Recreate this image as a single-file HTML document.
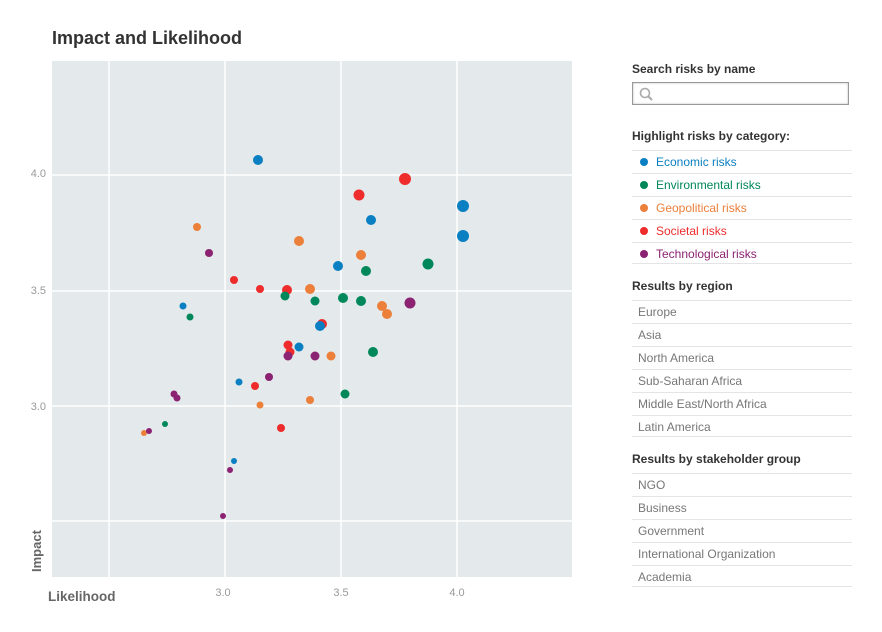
<!DOCTYPE html>
<html><head><meta charset="utf-8"><style>
body{margin:0;width:882px;height:632px;background:#fff;font-family:"Liberation Sans",Arial,sans-serif;position:relative;overflow:hidden}
.abs{position:absolute}
h1{position:absolute;left:52px;top:28px;margin:0;font-size:18px;font-weight:bold;color:#333}
.hd{position:absolute;left:632px;font-size:12px;font-weight:bold;color:#333}
.row{position:absolute;left:632px;width:220px;height:22px;border-top:1px solid #e4e4e4;font-size:12px;line-height:22px;color:#777;padding-left:6px;box-sizing:border-box}
.row.last{border-bottom:1px solid #e4e4e4}
.dot{display:inline-block;width:8px;height:8px;border-radius:50%;margin:0 8px 0 2px;vertical-align:0px}
</style></head><body>
<h1>Impact and Likelihood</h1>
<svg class="abs" style="left:0;top:0" width="600" height="632">
<rect x="52" y="61" width="520" height="516" fill="#e4eaeb"/>
<g stroke="#fff" stroke-width="1.5">
<line x1="109" y1="61" x2="109" y2="577"/><line x1="225" y1="61" x2="225" y2="577"/><line x1="341" y1="61" x2="341" y2="577"/><line x1="457" y1="61" x2="457" y2="577"/>
<line x1="52" y1="175" x2="572" y2="175"/><line x1="52" y1="291" x2="572" y2="291"/><line x1="52" y1="406" x2="572" y2="406"/><line x1="52" y1="521" x2="572" y2="521"/>
</g>
<g font-size="11" fill="#999" font-family="Liberation Sans,sans-serif">
<text x="46" y="177" text-anchor="end">4.0</text><text x="46" y="294" text-anchor="end">3.5</text><text x="46" y="410" text-anchor="end">3.0</text>
<text x="223" y="596" text-anchor="middle">3.0</text><text x="341" y="596" text-anchor="middle">3.5</text><text x="457" y="596" text-anchor="middle">4.0</text>
</g>
<text x="48" y="601" font-size="13.5" font-weight="bold" fill="#666">Likelihood</text>
<text transform="translate(41,572) rotate(-90)" font-size="13" font-weight="bold" fill="#666">Impact</text>
<g>
<circle cx="258" cy="160" r="5" fill="#0a7fc1"/>
<circle cx="359" cy="195" r="5.5" fill="#ee2c2c"/>
<circle cx="405" cy="179" r="6" fill="#ee2c2c"/>
<circle cx="463" cy="206" r="6" fill="#0a7fc1"/>
<circle cx="463" cy="236" r="6" fill="#0a7fc1"/>
<circle cx="371" cy="220" r="5" fill="#0a7fc1"/>
<circle cx="197" cy="227" r="4" fill="#ec7f3a"/>
<circle cx="299" cy="241" r="5" fill="#ec7f3a"/>
<circle cx="209" cy="253" r="4" fill="#8b2272"/>
<circle cx="361" cy="255" r="5" fill="#ec7f3a"/>
<circle cx="428" cy="264" r="5.5" fill="#00875a"/>
<circle cx="366" cy="271" r="5" fill="#00875a"/>
<circle cx="338" cy="266" r="5" fill="#0a7fc1"/>
<circle cx="234" cy="280" r="4" fill="#ee2c2c"/>
<circle cx="260" cy="289" r="4" fill="#ee2c2c"/>
<circle cx="287" cy="290" r="5" fill="#ee2c2c"/>
<circle cx="310" cy="289" r="5" fill="#ec7f3a"/>
<circle cx="285" cy="296" r="4.5" fill="#00875a"/>
<circle cx="315" cy="301" r="4.5" fill="#00875a"/>
<circle cx="343" cy="298" r="5" fill="#00875a"/>
<circle cx="361" cy="301" r="5" fill="#00875a"/>
<circle cx="410" cy="303" r="5.5" fill="#8b2272"/>
<circle cx="382" cy="306" r="5" fill="#ec7f3a"/>
<circle cx="387" cy="314" r="5" fill="#ec7f3a"/>
<circle cx="183" cy="306" r="3.5" fill="#0a7fc1"/>
<circle cx="190" cy="317" r="3.5" fill="#00875a"/>
<circle cx="322" cy="324" r="5" fill="#ee2c2c"/>
<circle cx="320" cy="326" r="5" fill="#0a7fc1"/>
<circle cx="299" cy="347" r="4.5" fill="#0a7fc1"/>
<circle cx="288" cy="345" r="4.5" fill="#ee2c2c"/>
<circle cx="290" cy="352" r="4.5" fill="#ee2c2c"/>
<circle cx="288" cy="356" r="4.5" fill="#8b2272"/>
<circle cx="315" cy="356" r="4.5" fill="#8b2272"/>
<circle cx="331" cy="356" r="4.5" fill="#ec7f3a"/>
<circle cx="373" cy="352" r="5" fill="#00875a"/>
<circle cx="269" cy="377" r="4" fill="#8b2272"/>
<circle cx="239" cy="382" r="3.5" fill="#0a7fc1"/>
<circle cx="255" cy="386" r="4" fill="#ee2c2c"/>
<circle cx="174" cy="394" r="3.5" fill="#8b2272"/>
<circle cx="177" cy="398" r="3.5" fill="#8b2272"/>
<circle cx="260" cy="405" r="3.5" fill="#ec7f3a"/>
<circle cx="345" cy="394" r="4.5" fill="#00875a"/>
<circle cx="310" cy="400" r="4" fill="#ec7f3a"/>
<circle cx="281" cy="428" r="4" fill="#ee2c2c"/>
<circle cx="165" cy="424" r="3" fill="#00875a"/>
<circle cx="144" cy="433" r="3" fill="#ec7f3a"/>
<circle cx="149" cy="431" r="3" fill="#8b2272"/>
<circle cx="234" cy="461" r="3" fill="#0a7fc1"/>
<circle cx="230" cy="470" r="3" fill="#8b2272"/>
<circle cx="223" cy="516" r="3" fill="#8b2272"/>
</g>
</svg>
<div class="hd" style="top:62px">Search risks by name</div>
<div class="abs" style="left:632px;top:82px;width:217px;height:23px;border:1px solid #999;box-sizing:border-box;box-shadow:inset 0 0 2px #bbb">
<svg width="20" height="20" style="position:absolute;left:4px;top:2px"><circle cx="8" cy="8" r="4.5" fill="none" stroke="#aaa" stroke-width="1.6"/><line x1="11.5" y1="11.5" x2="15" y2="15" stroke="#aaa" stroke-width="2"/></svg></div>
<div class="hd" style="top:129px">Highlight risks by category:</div>
<div class="row" style="top:150px;color:#0a7fc1"><span class="dot" style="background:#0a7fc1"></span>Economic risks</div>
<div class="row" style="top:173px;color:#00875a"><span class="dot" style="background:#00875a"></span>Environmental risks</div>
<div class="row" style="top:196px;color:#ec7f3a"><span class="dot" style="background:#ec7f3a"></span>Geopolitical risks</div>
<div class="row" style="top:219px;color:#ee2c2c"><span class="dot" style="background:#ee2c2c"></span>Societal risks</div>
<div class="row last" style="top:242px;color:#8b2272"><span class="dot" style="background:#8b2272"></span>Technological risks</div>
<div class="hd" style="top:279px">Results by region</div>
<div class="row" style="top:300px">Europe</div>
<div class="row" style="top:323px">Asia</div>
<div class="row" style="top:346px">North America</div>
<div class="row" style="top:369px">Sub-Saharan Africa</div>
<div class="row" style="top:392px">Middle East/North Africa</div>
<div class="row last" style="top:415px">Latin America</div>
<div class="hd" style="top:452px">Results by stakeholder group</div>
<div class="row" style="top:473px">NGO</div>
<div class="row" style="top:496px">Business</div>
<div class="row" style="top:519px">Government</div>
<div class="row" style="top:542px">International Organization</div>
<div class="row last" style="top:565px">Academia</div>
</body></html>
